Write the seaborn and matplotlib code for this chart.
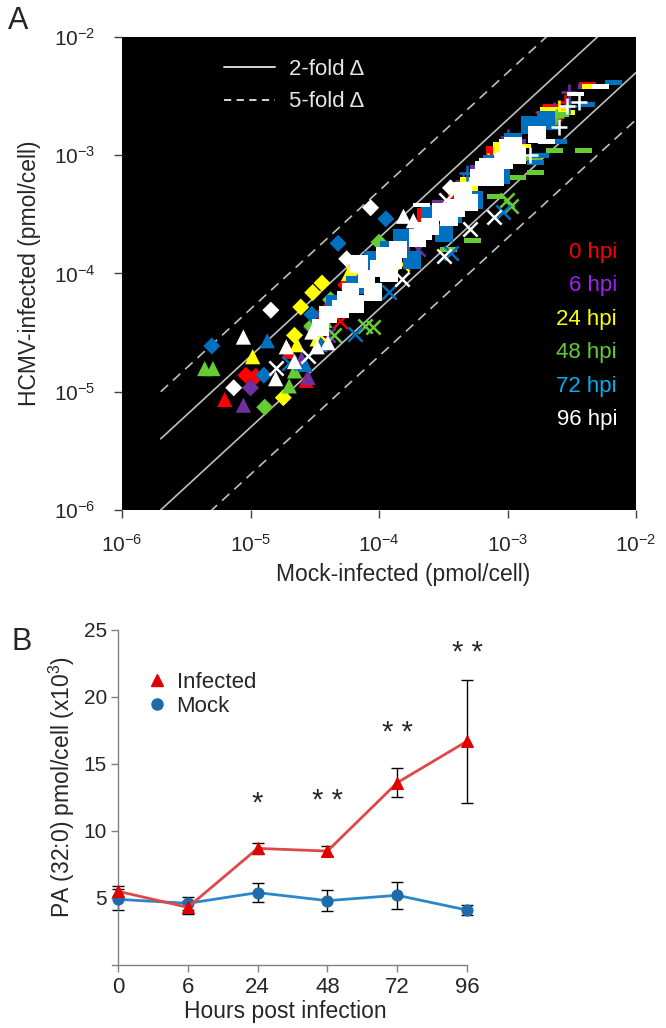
import matplotlib
matplotlib.use('Agg')
import matplotlib.pyplot as plt
import numpy as np
import pandas as pd
import seaborn as sns
from matplotlib.lines import Line2D
from matplotlib.ticker import FixedLocator, NullLocator, LogFormatterMathtext

sns.set_style('ticks')
plt.rcParams['font.family'] = ['Liberation Sans', 'DejaVu Sans']
plt.rcParams['mathtext.fontset'] = 'custom'
plt.rcParams['mathtext.rm'] = 'Liberation Sans'
plt.rcParams['mathtext.it'] = 'Liberation Sans:italic'
plt.rcParams['mathtext.bf'] = 'Liberation Sans:bold'

# ---------------- Panel A data (pmol/cell) ----------------
hpi_labels = ['0 hpi', '6 hpi', '24 hpi', '48 hpi', '72 hpi', '96 hpi']

shape_0h = list('DDDD^^^^sssssxx++++____')
mock_0h = [9.2e-6, 1.1e-5, 3.6e-5, 5.5e-5, 6.3e-6, 2.7e-5, 2.0e-5, 4.0e-5,
           2.3e-4, 1.2e-4, 7.0e-5, 4.0e-4, 8.0e-4, 5.0e-5, 3.0e-4,
           2.8e-3, 2.3e-3, 1.9e-3, 1.0e-3, 2.2e-3, 1.5e-3, 6.0e-4, 4.2e-3]
inf_0h = [1.38e-5, 1.35e-5, 4.5e-5, 8.0e-5, 8.6e-6, 1.25e-5, 2.2e-5, 5.5e-5,
          3.0e-4, 1.5e-4, 9.0e-5, 5.0e-4, 1.0e-3, 4.0e-5, 2.5e-4,
          2.8e-3, 2.0e-3, 2.3e-3, 1.2e-3, 2.6e-3, 1.6e-3, 6.0e-4, 4.0e-3]

shape_6h = list('DDD^^^ssssxx++++___')
mock_6h = [1.0e-5, 3.0e-5, 6.0e-5, 8.8e-6, 2.8e-5, 2.5e-5,
           1.5e-4, 3.0e-4, 8.0e-5, 6.0e-4, 4.0e-5, 2.0e-4,
           1.0e-3, 3.0e-3, 2.3e-3, 4.5e-4, 4.1e-3, 1.2e-3, 2.0e-4]
inf_6h = [1.08e-5, 3.5e-5, 6.0e-5, 7.7e-6, 1.32e-5, 1.9e-5,
          1.6e-4, 3.5e-4, 1.0e-4, 7.0e-4, 3.0e-5, 1.6e-4,
          1.44e-3, 3.4e-3, 2.4e-3, 6.0e-4, 3.8e-3, 1.3e-3, 2.4e-4]

shape_24h = list('DDDDDDD^^^^ssssxx+++_____')
mock_24h = [1.8e-5, 2.46e-5, 3.05e-5, 3.6e-5, 2.2e-5, 4.5e-5, 6.5e-5,
            1.04e-5, 5.8e-5, 2.3e-5, 3.3e-5,
            1.0e-4, 2.5e-4, 5.0e-4, 9.0e-4, 3.5e-5, 1.5e-4,
            2.0e-3, 2.5e-3, 7.0e-4, 4.4e-3, 2.9e-3, 2.1e-3, 1.3e-3, 6.5e-4]
inf_24h = [8.9e-6, 5.2e-5, 6.9e-5, 8.3e-5, 3.0e-5, 4.8e-5, 1.1e-4,
           1.98e-5, 1.0e-4, 2.5e-5, 2.8e-5,
           1.3e-4, 2.8e-4, 5.5e-4, 1.1e-3, 3.0e-5, 1.2e-4,
           2.2e-3, 2.5e-3, 9.0e-4, 3.8e-3, 2.3e-3, 2.45e-3, 1.2e-3, 7.5e-4]

shape_48h = list('DDDD^^^^^ssssxxxxx++_________')
mock_48h = [1.29e-5, 1.0e-4, 3.0e-5, 4.2e-5,
            4.4e-6, 5.1e-6, 2.0e-5, 2.2e-5, 3.8e-5,
            1.3e-4, 3.5e-4, 7.0e-4, 6.0e-5,
            7.8e-5, 9.0e-5, 1.07e-3, 9.9e-4, 4.5e-5,
            2.4e-3, 1.6e-3,
            5.3e-4, 2.6e-3, 2.3e-3, 3.9e-3, 1.6e-3, 1.65e-3, 3.5e-4, 8.0e-4, 1.2e-3]
inf_48h = [7.4e-6, 1.84e-4, 3.6e-5, 6.0e-5,
           1.57e-5, 1.57e-5, 1.12e-5, 1.5e-5, 4.0e-5,
           1.4e-4, 3.3e-4, 7.5e-4, 7.0e-5,
           3.6e-5, 3.5e-5, 3.7e-4, 4.2e-4, 3.0e-5,
           2.1e-3, 1.7e-3,
           1.9e-4, 2.2e-3, 1.1e-3, 1.1e-3, 9.3e-4, 7.2e-4, 1.6e-4, 4.5e-4, 6.5e-4]

shape_72h = list('DDDDD^^^^ssssssssssssssssxxxxx+++_______')
mock_72h = [5.0e-6, 1.27e-5, 4.8e-5, 1.13e-4, 3.0e-5,
            1.35e-5, 2.66e-5, 3.5e-5, 6.0e-5,
            9.0e-5, 6.5e-5, 1.5e-4, 2.5e-4, 4.5e-4, 7.5e-4, 1.1e-3, 1.5e-3, 4.5e-5, 1.8e-4, 3.2e-4,
            1.2e-4, 3.8e-4, 5.5e-4, 9.0e-4, 2.0e-3,
            2.0e-5, 6.5e-5, 9.3e-4, 3.6e-4, 1.2e-4,
            4.8e-4, 1.9e-3, 3.0e-3,
            6.7e-3, 4.1e-3, 2.5e-3, 1.8e-3, 1.65e-3, 9.0e-4, 2.2e-3]
inf_72h = [2.44e-5, 1.38e-5, 1.8e-4, 2.9e-4, 4.5e-5,
           2.7e-5, 1.7e-5, 2.5e-5, 6.5e-5,
           1.3e-4, 8.0e-5, 2.0e-4, 3.2e-4, 4.5e-4, 8.5e-4, 1.3e-3, 1.8e-3, 5.5e-5, 1.3e-4, 2.2e-4,
           1.6e-4, 3.2e-4, 4.2e-4, 7.0e-4, 2.0e-3,
           1.75e-5, 3.1e-5, 3.3e-4, 1.5e-4, 7.0e-5,
           7.1e-4, 1.9e-3, 2.6e-3,
           4.1e-3, 2.7e-3, 1.3e-3, 1.0e-3, 8.7e-4, 6.0e-4, 1.7e-3]

shape_96h = list('DDDDD^^^^^^^^^^' + 's' * 31 + 'xxxxxxx+++++____')
mock_96h = [7.4e-6, 1.44e-5, 5.6e-5, 8.6e-5, 3.6e-4,
            8.8e-6, 1.57e-5, 1.9e-5, 1.55e-4, 1.85e-4, 3.0e-5, 4.5e-5, 4.0e-5, 2.2e-5, 3.3e-5,
            6.0e-5, 8.0e-5, 1.0e-4, 1.2e-4, 1.4e-4, 7.0e-5, 1.1e-4, 9.0e-5, 5.0e-5, 3.5e-5,
            2.5e-4, 3.0e-4, 3.5e-4, 4.5e-4, 5.0e-4, 6.0e-4, 7.0e-4, 8.0e-4, 9.5e-4, 1.0e-3,
            1.2e-3, 2.0e-4, 1.7e-3,
            4.0e-5, 6.5e-5, 1.3e-4, 2.2e-4, 4.0e-4, 6.5e-4, 1.1e-3, 5.5e-5,
            1.58e-5, 2.8e-5, 7.8e-4, 5.1e-4, 3.2e-4, 3.3e-4, 1.5e-4,
            3.6e-3, 2.9e-3, 2.5e-3, 1.5e-3, 8.0e-4,
            5.3e-3, 3.4e-3, 2.0e-3, 2.15e-4]
inf_96h = [1.08e-5, 4.9e-5, 1.33e-4, 3.6e-4, 5.3e-4,
           2.9e-5, 1.29e-5, 2.4e-5, 3.05e-4, 2.8e-4, 3.2e-5, 5.0e-5, 2.6e-5, 1.8e-5, 2.4e-5,
           7.0e-5, 9.0e-5, 1.1e-4, 1.0e-4, 1.6e-4, 1.2e-4, 1.4e-4, 7.0e-5, 5.0e-5, 3.5e-5,
           2.5e-4, 3.3e-4, 3.0e-4, 5.0e-4, 4.0e-4, 6.5e-4, 8.0e-4, 6.5e-4, 9.0e-4, 1.15e-3,
           1.0e-3, 2.0e-4, 1.5e-3,
           4.5e-5, 5.5e-5, 1.3e-4, 2.3e-4, 3.6e-4, 7.5e-4, 1.2e-3, 6.0e-5,
           1.6e-5, 2.0e-5, 3.0e-4, 2.4e-4, 1.4e-4, 4.2e-4, 9.0e-5,
           2.8e-3, 2.6e-3, 1.75e-3, 1.0e-3, 9.0e-4,
           3.8e-3, 3.3e-3, 1.3e-3, 3.8e-4]

fold_changes = [5, 2, 0.5, 0.2]
fold_x_range = [2e-6, 1e-2]

# ---------------- Panel B data ----------------
hours = ['0', '6', '24', '48', '72', '96']
infected_mean = [5.5, 4.3, 8.7, 8.5, 13.6, 16.7]
infected_sd = [0.4, 0.5, 0.4, 0.4, 1.1, 4.6]
mock_mean = [4.9, 4.6, 5.4, 4.8, 5.2, 4.1]
mock_sd = [0.8, 0.5, 0.7, 0.8, 1.0, 0.4]
signif = ['', '', '*', '* *', '* *', '* *']
signif_y = [0, 0, 12.05, 12.2, 17.3, 23.3]

# ---------------- styling ----------------
marker_colors = ['#FF0000', '#7030A0', '#FFFF00', '#66CC33', '#0070C0', '#FFFFFF']
label_colors = ['#FF0000', '#A020F0', '#FFFF00', '#66CC33', '#00B0F0', '#FFFFFF']
dash = np.array([[-1, -0.28], [1, -0.28], [1, 0.28], [-1, 0.28], [-1, -0.28]])
marker_map = {'D': 'D', '^': '^', 's': 's', 'x': 'x', '+': '+', '_': dash}
size_map = {'D': 75, '^': 120, 's': 160, 'x': 105, '+': 120, '_': 150}
draw_order = ['_', 's', 'D', '^', 'x', '+']

groups = [(shape_0h, mock_0h, inf_0h), (shape_6h, mock_6h, inf_6h),
          (shape_24h, mock_24h, inf_24h), (shape_48h, mock_48h, inf_48h),
          (shape_72h, mock_72h, inf_72h), (shape_96h, mock_96h, inf_96h)]

fig = plt.figure(figsize=(6.66, 10.28), dpi=100)
axA = fig.add_axes([0.1832, 0.5039, 0.7718, 0.4601])
axA.set_facecolor('black')
axA.set_xscale('log')
axA.set_yscale('log')
axA.set_xlim(1e-6, 1e-2)
axA.set_ylim(1e-6, 1e-2)

# fold-change reference lines
fx = np.array(fold_x_range)
for f in fold_changes:
    if f in (5, 0.2):
        axA.plot(fx, fx * f, color='#BFBFBF', lw=1.2, ls='--', dashes=(6, 4), zorder=1)
    else:
        axA.plot(fx, fx * f, color='#BFBFBF', lw=1.2, ls='-', zorder=1)

for ti, (shp, mk, inf) in enumerate(groups):
    df = pd.DataFrame({'shape': shp, 'mock': mk, 'inf': inf})
    for m in draw_order:
        sub = df[df['shape'] == m]
        if len(sub) == 0:
            continue
        if m in ('x', '+'):
            sns.scatterplot(data=sub, x='mock', y='inf', ax=axA, color=marker_colors[ti],
                            marker=marker_map[m], s=size_map[m], linewidth=1.8,
                            legend=False, zorder=3)
        else:
            sns.scatterplot(data=sub, x='mock', y='inf', ax=axA, color=marker_colors[ti],
                            marker=marker_map[m], s=size_map[m], linewidth=0,
                            edgecolor='none', legend=False, zorder=3)

axA.xaxis.set_major_locator(FixedLocator([1e-6, 1e-5, 1e-4, 1e-3, 1e-2]))
axA.yaxis.set_major_locator(FixedLocator([1e-6, 1e-5, 1e-4, 1e-3, 1e-2]))
axA.xaxis.set_minor_locator(NullLocator())
axA.yaxis.set_minor_locator(NullLocator())
axA.xaxis.set_major_formatter(LogFormatterMathtext())
axA.yaxis.set_major_formatter(LogFormatterMathtext())
axA.tick_params(axis='both', direction='out', length=6, width=1, color='#404040',
                labelsize=15)
axA.tick_params(axis='x', pad=11)
axA.tick_params(axis='y', pad=13)
for sp in axA.spines.values():
    sp.set_visible(False)
axA.set_xlabel('Mock-infected (pmol/cell)', fontsize=16.5)
axA.set_ylabel('HCMV-infected (pmol/cell)', fontsize=16.5)
axA.xaxis.set_label_coords(0.547, -0.112)
axA.yaxis.set_label_coords(-0.157, 0.5)

leg_handles = [Line2D([], [], color='#E6E6E6', lw=1.3, ls='-'),
               Line2D([], [], color='#E6E6E6', lw=1.3, ls='--', dashes=(4, 3))]
legA = axA.legend(leg_handles, ['2-fold \u0394', '5-fold \u0394'], loc='upper left',
                  bbox_to_anchor=(0.199, 0.953), frameon=False, fontsize=16,
                  handlelength=2.3, handletextpad=0.6, labelspacing=0.5,
                  borderaxespad=0, borderpad=0)
for t in legA.get_texts():
    t.set_color('#E6E6E6')

for i, lab in enumerate(hpi_labels):
    axA.text(0.963, 0.545 - i * 0.0709, lab, transform=axA.transAxes, ha='right',
             va='center', fontsize=16, color=label_colors[i])

# ---------------- Panel B ----------------
axB = fig.add_axes([0.1682, 0.0613, 0.533, 0.3259])
pos = list(range(len(hours)))
axB.errorbar(pos, mock_mean, yerr=mock_sd, fmt='none', ecolor='black', elinewidth=1,
             capsize=4, capthick=1, zorder=2, clip_on=False)
axB.errorbar(pos, infected_mean, yerr=infected_sd, fmt='none', ecolor='black',
             elinewidth=1, capsize=4, capthick=1, zorder=2, clip_on=False)
sns.lineplot(x=pos, y=mock_mean, ax=axB, color='#2B87C8', lw=2, marker='o',
             markersize=8, markerfacecolor='#1F6BAA', markeredgecolor='#1F6BAA', zorder=3,
             clip_on=False)
sns.lineplot(x=pos, y=infected_mean, ax=axB, color='#E04848', lw=2, marker='^',
             markersize=9, markerfacecolor='#E00000', markeredgecolor='#E00000', zorder=4,
             clip_on=False)
for i, s in enumerate(signif):
    if s:
        axB.text(pos[i], signif_y[i], s, ha='center', va='center', fontsize=21)

axB.set_xlim(-0.086, 5.0)
axB.set_ylim(0, 25)
axB.set_xticks(pos)
axB.set_xticklabels(hours)
axB.set_yticks([5, 10, 15, 20, 25])
axB.spines['left'].set_position(('data', 0))
axB.spines['top'].set_visible(False)
axB.spines['right'].set_visible(False)
for s in ('left', 'bottom'):
    axB.spines[s].set_color('#808080')
    axB.spines[s].set_linewidth(1)
axB.tick_params(axis='both', direction='out', length=5, width=1, color='#808080', pad=3)
axB.tick_params(axis='x', labelsize=16, pad=4)
axB.tick_params(axis='y', labelsize=15)
axB.set_xlabel('Hours post infection', fontsize=16.5)
axB.set_ylabel('PA (32:0) pmol/cell (x10$^{3}$)', fontsize=16.5)
axB.xaxis.set_label_coords(0.487, -0.105)
axB.yaxis.set_label_coords(-0.10, 0.53)

legB_handles = [Line2D([], [], color='#E00000', marker='^', ls='none', markersize=9),
                Line2D([], [], color='#1F6BAA', marker='o', ls='none', markersize=8)]
axB.legend(legB_handles, ['Infected', 'Mock'], loc='upper left', bbox_to_anchor=(0.094, 0.876),
           frameon=False, fontsize=16, handlelength=1.0, handletextpad=0.4,
           labelspacing=0.15, borderaxespad=0, borderpad=0)

fig.text(0.027, 0.980, 'A', fontsize=22, ha='center', va='center')
fig.text(0.033, 0.375, 'B', fontsize=22, ha='center', va='center')

fig.savefig('out.png', dpi=100)
